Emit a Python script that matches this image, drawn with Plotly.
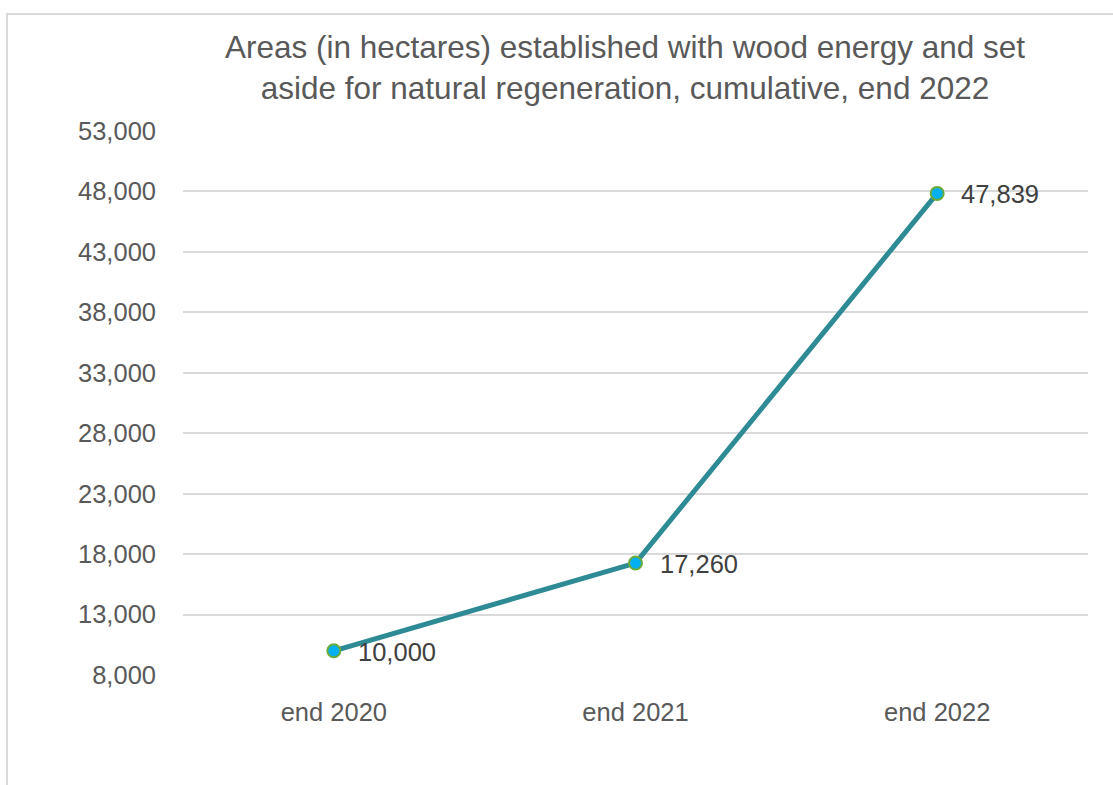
import plotly.graph_objects as go

# Cumulative area (hectares) at each year end
periods = ["end 2020", "end 2021", "end 2022"]
hectares = [10000, 17260, 47839]
value_labels = ["10,000", "17,260", "47,839"]

y_ticks = [8000, 13000, 18000, 23000, 28000, 33000, 38000, 43000, 48000, 53000]
y_tick_text = ["8,000", "13,000", "18,000", "23,000", "28,000", "33,000",
               "38,000", "43,000", "48,000", "53,000"]

W, H = 1113, 785
L, R, T, B = 183, 25, 131, 110
pw, ph = W - L - R, H - T - B

FONT = "Liberation Sans, Arial, sans-serif"

fig = go.Figure()
fig.add_trace(go.Scatter(
    x=periods,
    y=hectares,
    mode="lines+markers",
    line=dict(color="#2E8B96", width=5),
    marker=dict(size=13, color="#00B0F0", line=dict(color="#6AAB3A", width=2)),
    hoverinfo="skip",
))

for p, v, t in zip(periods, hectares, value_labels):
    fig.add_annotation(
        x=p, y=v, text=t, showarrow=False,
        xanchor="left", yanchor="middle", xshift=22, yshift=-1,
        font=dict(family=FONT, size=25.5, color="#404040"),
    )

# light frame along the top and left edges (right/bottom run off the canvas)
def px_x(px):
    return (px - L) / pw

def px_y(py):
    return (H - B - py) / ph

fig.add_shape(type="rect", xref="paper", yref="paper", layer="above",
              x0=px_x(7), x1=px_x(W + 10), y0=px_y(H + 10), y1=px_y(14),
              line=dict(color="#D9D9D9", width=2), fillcolor="rgba(0,0,0,0)")

fig.update_layout(
    width=W, height=H,
    margin=dict(l=L, r=R, t=T, b=B),
    paper_bgcolor="white",
    plot_bgcolor="white",
    showlegend=False,
    title=dict(
        text="Areas (in hectares) established with wood energy and set<br>aside for natural regeneration, cumulative, end 2022",
        font=dict(family=FONT, size=31.5, color="#595959"),
        xref="paper", x=px_x(625), xanchor="center",
        yref="container", y=1 - 58 / H, yanchor="top",
    ),
    xaxis=dict(
        type="category",
        range=[-0.5, 2.5],
        showgrid=False,
        showline=False,
        ticks="",
        tickfont=dict(family=FONT, size=25.5, color="#595959"),
        ticklabelstandoff=19,
    ),
    yaxis=dict(
        range=[8000, 53000],
        tickvals=y_ticks,
        ticktext=y_tick_text,
        showgrid=True,
        gridcolor="#D9D9D9",
        gridwidth=1.5,
        zeroline=False,
        showline=False,
        ticks="",
        tickfont=dict(family=FONT, size=25.5, color="#595959"),
        ticklabelstandoff=26,
    ),
)

fig.write_html("out.html")
